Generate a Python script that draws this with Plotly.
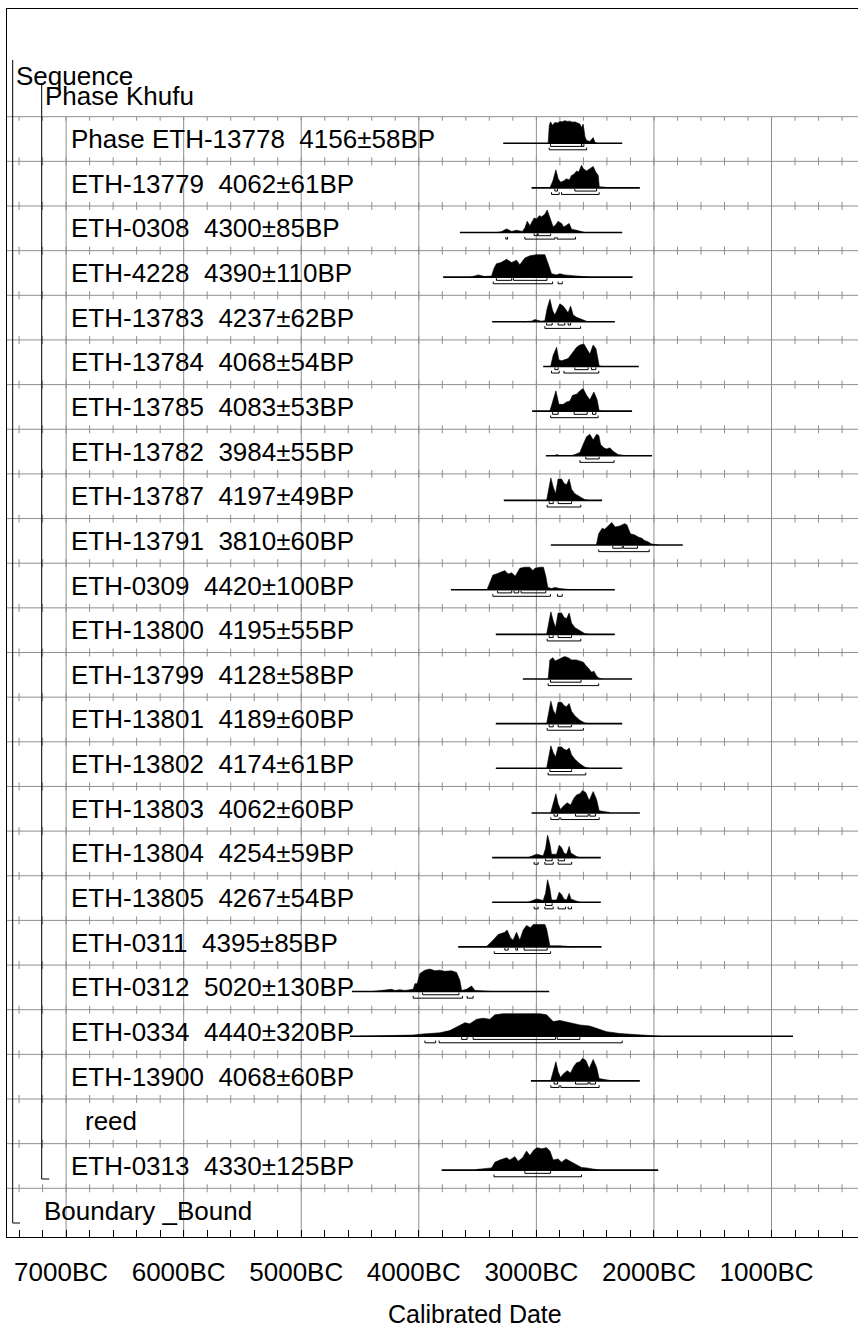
import plotly.graph_objects as go

# ---------------- data (years BC) ----------------
ROW_LABELS = [
    "Phase ETH-13778  4156±58BP", "ETH-13779  4062±61BP", "ETH-0308  4300±85BP",
    "ETH-4228  4390±110BP", "ETH-13783  4237±62BP", "ETH-13784  4068±54BP",
    "ETH-13785  4083±53BP", "ETH-13782  3984±55BP", "ETH-13787  4197±49BP",
    "ETH-13791  3810±60BP", "ETH-0309  4420±100BP", "ETH-13800  4195±55BP",
    "ETH-13799  4128±58BP", "ETH-13801  4189±60BP", "ETH-13802  4174±61BP",
    "ETH-13803  4062±60BP", "ETH-13804  4254±59BP", "ETH-13805  4267±54BP",
    "ETH-0311  4395±85BP", "ETH-0312  5020±130BP", "ETH-0334  4440±320BP",
    "ETH-13900  4068±60BP", "reed", "ETH-0313  4330±125BP",
]
HEADER_LABELS = ["Sequence", "Phase Khufu"]
BOUNDARY_LABEL = "Boundary _Bound"

LINE_START = [3282, 3041, 3651, 3793, 3376, 2942, 3036, 2919, 3277, 2877, 3727, 3345,
              3115, 3345, 3345, 3041, 3376, 3376, 3665, 4569, 4586, 3047, None, 3806]
LINE_END = [2270, 2120, 2270, 2182, 2333, 2129, 2186, 2016, 2441, 1755, 2333, 2333,
            2186, 2270, 2270, 2120, 2452, 2452, 2446, 2891, 817, 2120, None, 1964]

DENS_YEARS = [
    [2900, 2890, 2880, 2863, 2843, 2820, 2800, 2780, 2758, 2735, 2715, 2690, 2673, 2650, 2630, 2616, 2602, 2587, 2573, 2545, 2517, 2503, 2486],
    [2885, 2860, 2834, 2815, 2794, 2770, 2743, 2720, 2701, 2680, 2658, 2640, 2616, 2600, 2573, 2545, 2517, 2495, 2474, 2465, 2440, 2361],
    [3339, 3300, 3254, 3210, 3169, 3120, 3098, 3078, 3055, 3019, 2998, 2975, 2956, 2930, 2908, 2879, 2857, 2835, 2815, 2786, 2766, 2721, 2701, 2658, 2587],
    [3560, 3495, 3440, 3381, 3360, 3339, 3300, 3254, 3211, 3169, 3141, 3098, 3055, 2998, 2950, 2928, 2900, 2871, 2830, 2800, 2760, 2715, 2650, 2602, 2550],
    [3120, 3084, 3040, 3013, 2960, 2928, 2908, 2885, 2862, 2843, 2823, 2800, 2772, 2752, 2730, 2709, 2687, 2658, 2616, 2573, 2540],
    [2879, 2857, 2828, 2809, 2786, 2758, 2730, 2701, 2658, 2630, 2596, 2573, 2545, 2517, 2494, 2475, 2466, 2440],
    [2885, 2857, 2834, 2809, 2772, 2743, 2715, 2692, 2658, 2630, 2602, 2573, 2545, 2511, 2483, 2466, 2440],
    [2850, 2828, 2800, 2700, 2673, 2630, 2602, 2573, 2545, 2517, 2488, 2469, 2454, 2426, 2403, 2375, 2347, 2305, 2233],
    [2913, 2894, 2877, 2857, 2837, 2815, 2786, 2764, 2743, 2721, 2701, 2673, 2630, 2587, 2550],
    [2490, 2470, 2440, 2420, 2390, 2358, 2330, 2290, 2250, 2231, 2200, 2163, 2130, 2103, 2080, 2052, 2020, 1993, 1960],
    [3420, 3396, 3370, 3340, 3300, 3268, 3240, 3209, 3180, 3141, 3100, 3056, 3030, 3013, 2972, 2940, 2920, 2903, 2870, 2843, 2800, 2750, 2700],
    [2913, 2894, 2877, 2857, 2837, 2815, 2786, 2764, 2743, 2721, 2701, 2673, 2630, 2587, 2550],
    [2900, 2885, 2860, 2840, 2800, 2760, 2730, 2700, 2660, 2630, 2600, 2580, 2560, 2530, 2510, 2490, 2470, 2440],
    [2913, 2894, 2877, 2857, 2837, 2815, 2786, 2764, 2743, 2721, 2701, 2673, 2630, 2587, 2550],
    [2913, 2894, 2877, 2857, 2837, 2815, 2786, 2764, 2743, 2721, 2701, 2673, 2630, 2587, 2550],
    [2879, 2851, 2834, 2815, 2794, 2772, 2738, 2709, 2681, 2658, 2630, 2607, 2579, 2551, 2517, 2488, 2466, 2375],
    [3070, 3021, 2998, 2942, 2922, 2905, 2885, 2871, 2828, 2806, 2786, 2766, 2743, 2721, 2707, 2658, 2630],
    [3070, 3021, 2998, 2942, 2922, 2905, 2885, 2871, 2828, 2806, 2786, 2766, 2743, 2721, 2707, 2658, 2630],
    [3424, 3368, 3325, 3268, 3249, 3220, 3198, 3169, 3141, 3112, 3084, 3050, 3027, 2998, 2928, 2913, 2885, 2800, 2715, 2687],
    [4400, 4231, 4203, 4161, 4118, 4048, 4033, 4014, 3991, 3948, 3906, 3863, 3821, 3778, 3721, 3679, 3651, 3636, 3594, 3551, 3523, 3424, 3368],
    [4500, 4331, 4048, 3963, 3821, 3736, 3651, 3608, 3566, 3509, 3453, 3396, 3353, 3283, 2971, 2913, 2857, 2800, 2715, 2630, 2545, 2488, 2403, 2290, 2177, 2063, 1950],
    [2879, 2851, 2834, 2815, 2794, 2772, 2738, 2709, 2681, 2658, 2630, 2607, 2579, 2551, 2517, 2488, 2466, 2375],
    None,
    [3509, 3381, 3353, 3311, 3254, 3226, 3183, 3155, 3117, 3084, 3055, 3021, 2993, 2956, 2913, 2885, 2857, 2815, 2786, 2749, 2715, 2673, 2616, 2573, 2517, 2460],
]
DENS_VALUES = [
    [0, 0.8, 0.95, 0.8, 0.92, 0.9, 0.97, 0.95, 1.0, 0.97, 0.98, 0.93, 0.95, 0.9, 0.85, 0.7, 0.85, 0.3, 0.12, 0.08, 0.25, 0.05, 0],
    [0, 0.3, 0.8, 0.4, 0.25, 0.3, 0.4, 0.35, 0.55, 0.6, 0.75, 0.7, 1.0, 0.85, 0.75, 0.85, 0.95, 0.7, 0.55, 0.05, 0.03, 0],
    [0, 0.03, 0.16, 0.05, 0.1, 0.05, 0.2, 0.5, 0.3, 0.65, 0.6, 0.75, 0.7, 0.8, 1.0, 0.6, 0.25, 0.35, 0.5, 0.4, 0.25, 0.4, 0.15, 0.1, 0],
    [0, 0.1, 0.03, 0.05, 0.4, 0.6, 0.65, 0.8, 0.65, 0.75, 0.55, 0.85, 0.95, 1.0, 1.0, 1.0, 0.6, 0.15, 0.1, 0.15, 0.1, 0.08, 0.04, 0.02, 0],
    [0, 0.02, 0.03, 0.1, 0.03, 0.05, 0.6, 1.0, 0.5, 0.3, 0.5, 0.8, 0.7, 0.55, 0.4, 0.7, 0.3, 0.2, 0.1, 0.02, 0],
    [0, 0.5, 0.85, 0.3, 0.25, 0.3, 0.35, 0.55, 0.85, 0.95, 1.0, 0.8, 0.55, 0.95, 0.8, 0.3, 0.02, 0],
    [0, 0.5, 0.9, 0.3, 0.3, 0.4, 0.45, 0.7, 0.75, 0.9, 1.0, 0.7, 0.5, 0.85, 0.5, 0.02, 0],
    [0, 0.05, 0.01, 0.01, 0.05, 0.15, 0.5, 0.85, 0.95, 0.7, 0.95, 0.9, 0.5, 0.35, 0.3, 0.35, 0.2, 0.05, 0],
    [0, 0.55, 1.0, 0.6, 0.3, 0.95, 0.95, 0.75, 0.7, 0.95, 0.5, 0.3, 0.15, 0.03, 0],
    [0, 0.5, 0.75, 0.7, 0.85, 1.0, 0.8, 0.85, 0.95, 0.9, 0.5, 0.45, 0.35, 0.3, 0.2, 0.15, 0.05, 0.02, 0],
    [0, 0.3, 0.65, 0.7, 0.8, 0.85, 0.7, 0.75, 0.6, 0.95, 1.0, 1.0, 0.85, 0.95, 1.0, 1.0, 0.6, 0.1, 0.05, 0.1, 0.05, 0.02, 0],
    [0, 0.55, 1.0, 0.6, 0.3, 0.95, 0.95, 0.75, 0.7, 0.95, 0.5, 0.3, 0.15, 0.03, 0],
    [0, 0.85, 0.95, 0.8, 0.9, 1.0, 0.95, 0.85, 0.85, 0.8, 0.75, 0.6, 0.5, 0.3, 0.35, 0.15, 0.05, 0],
    [0, 0.55, 1.0, 0.6, 0.4, 0.95, 0.95, 0.8, 0.75, 0.9, 0.55, 0.35, 0.15, 0.03, 0],
    [0, 0.6, 1.0, 0.7, 0.5, 0.95, 0.95, 0.85, 0.8, 0.9, 0.6, 0.4, 0.2, 0.05, 0],
    [0, 0.6, 0.85, 0.4, 0.15, 0.3, 0.45, 0.35, 0.65, 0.8, 0.85, 1.0, 0.9, 0.55, 0.95, 0.6, 0.1, 0.02],
    [0, 0.1, 0.15, 0.08, 0.4, 1.0, 0.6, 0.15, 0.15, 0.55, 0.45, 0.2, 0.15, 0.5, 0.2, 0.05, 0],
    [0, 0.1, 0.15, 0.08, 0.4, 1.0, 0.6, 0.1, 0.1, 0.45, 0.35, 0.15, 0.1, 0.4, 0.15, 0.05, 0],
    [0.02, 0.3, 0.55, 0.65, 0.75, 0.4, 0.3, 0.65, 0.3, 0.75, 0.95, 0.85, 1.0, 1.0, 1.0, 0.8, 0.05, 0.05, 0.03, 0],
    [0, 0.1, 0.05, 0.08, 0.05, 0.1, 0.35, 0.35, 0.8, 0.95, 1.0, 0.93, 0.95, 0.9, 0.92, 0.85, 0.5, 0.05, 0.1, 0.25, 0.05, 0.02, 0],
    [0, 0.03, 0.05, 0.1, 0.15, 0.25, 0.5, 0.6, 0.55, 0.75, 0.8, 0.75, 0.95, 1.0, 1.0, 0.95, 0.65, 0.7, 0.6, 0.5, 0.45, 0.35, 0.2, 0.12, 0.07, 0.02, 0],
    [0, 0.6, 0.85, 0.4, 0.15, 0.3, 0.45, 0.35, 0.65, 0.8, 0.85, 1.0, 0.9, 0.55, 0.95, 0.6, 0.1, 0.02],
    None,
    [0.03, 0.1, 0.35, 0.45, 0.55, 0.45, 0.6, 0.4, 0.55, 0.85, 0.65, 0.9, 1.0, 0.95, 1.0, 0.85, 0.45, 0.5, 0.35, 0.5, 0.4, 0.25, 0.12, 0.1, 0.04, 0],
]
RANGES_68 = [
    [[2880, 2616], [2614, 2596]], [[2843, 2820], [2673, 2488]], [[3019, 2990], [2985, 2879]],
    [[3340, 3210], [3195, 2910]], [[2913, 2866], [2815, 2758], [2730, 2709]],
    [[2843, 2815], [2673, 2560], [2531, 2494]], [[2862, 2815], [2679, 2568], [2522, 2494]],
    [[2580, 2466]], [[2891, 2857], [2815, 2701]], [[2350, 2270], [2260, 2140]],
    [[3330, 3210], [3190, 3150], [3130, 2920]], [[2891, 2857], [2815, 2701]],
    [[2880, 2620]], [[2891, 2857], [2815, 2701]], [[2885, 2700]],
    [[2849, 2820], [2667, 2559], [2545, 2497]], [[2922, 2866], [2815, 2760]], [[2922, 2866]],
    [[3268, 3240], [3175, 3160], [3104, 2908]], [[3968, 3659]],
    [[3636, 3589], [3538, 2837], [2823, 2630]], [[2849, 2820], [2667, 2559], [2545, 2497]],
    None, [[3098, 2879]],
]
RANGES_95 = [
    [[2891, 2573]], [[2871, 2806], [2786, 2466]], [[3260, 3245], [3098, 2842], [2825, 2667]],
    [[3367, 2863], [2815, 2780]], [[2928, 2624]], [[2871, 2806], [2766, 2469]],
    [[2879, 2475]], [[2630, 2339]], [[2908, 2622]], [[2470, 2040]],
    [[3370, 2880], [2820, 2780]], [[2908, 2622]], [[2900, 2470]], [[2908, 2600]], [[2900, 2580]],
    [[2877, 2806], [2792, 2466]], [[3019, 2985], [2928, 2857], [2815, 2700]],
    [[3019, 2985], [2928, 2857], [2815, 2752], [2730, 2701]], [[3358, 2879]],
    [[4048, 3628], [3589, 3538]], [[3948, 3857], [3827, 2270]],
    [[2877, 2806], [2792, 2466]], None, [[3361, 2616]],
]
MAJOR_TICKS = [7000, 6000, 5000, 4000, 3000, 2000, 1000]
MINOR_STEP = 200
AXIS_TITLE = "Calibrated Date"

# ---------------- geometry (pixels of the picture) ----------------
W, H = 858, 1327
PL, PR, PT, PB = 7, 858, 9, 1237
PX_PER_YEAR = 0.11757
PX_7000 = 66.1
ROW0_PX = 116.7
ROW_PX = 44.65

XMIN = -7000 - (PX_7000 - PL) / PX_PER_YEAR
XMAX = XMIN + (PR - PL) / PX_PER_YEAR
YTOP = (PT - ROW0_PX) / ROW_PX
YBOT = (PB - ROW0_PX) / ROW_PX


def xd(px):
    return XMIN + (px - PL) / PX_PER_YEAR


def yd(px):
    return (px - ROW0_PX) / ROW_PX


BASE = 26.5 / ROW_PX
PEAK = 22.5 / ROW_PX
OFF68 = 3.2 / ROW_PX
OFF95 = 6.6 / ROW_PX
BR_TICK = 2.2 / ROW_PX
GRID = "#8f8f8f"
FONT = "Liberation Sans, Arial, sans-serif"

fig = go.Figure()
n_rows = len(ROW_LABELS)

# row lines with small ticks
hx, hy = [], []
for r in range(n_rows + 1):
    hx += [XMIN, XMAX, None]
    hy += [r, r, None]
fig.add_trace(go.Scatter(x=hx, y=hy, mode="lines", line=dict(color=GRID, width=1),
                         hoverinfo="skip", showlegend=False))
tx, ty = [], []
t = -7400
while t <= -400:
    for r in range(n_rows + 1):
        up = 0 if r == 0 else 4 / ROW_PX
        tx += [t, t, None]
        ty += [r - up, r + 4 / ROW_PX, None]
    t += MINOR_STEP
fig.add_trace(go.Scatter(x=tx, y=ty, mode="lines", line=dict(color=GRID, width=1),
                         hoverinfo="skip", showlegend=False))
# vertical grid at major ticks
vx, vy = [], []
for m in MAJOR_TICKS:
    vx += [-m, -m, None]
    vy += [0, YBOT, None]
fig.add_trace(go.Scatter(x=vx, y=vy, mode="lines", line=dict(color=GRID, width=1),
                         hoverinfo="skip", showlegend=False))

# distributions
for i in range(n_rows):
    if DENS_YEARS[i] is None:
        continue
    b = i + BASE
    xs = [-DENS_YEARS[i][0]] + [-v for v in DENS_YEARS[i]] + [-DENS_YEARS[i][-1]]
    ys = [b] + [b - PEAK * v for v in DENS_VALUES[i]] + [b]
    fig.add_trace(go.Scatter(x=xs, y=ys, mode="lines", fill="toself", fillcolor="black",
                             line=dict(color="black", width=0.6), hoverinfo="skip",
                             showlegend=False))
    fig.add_trace(go.Scatter(x=[-LINE_START[i], -LINE_END[i]], y=[b, b], mode="lines",
                             line=dict(color="black", width=1.6), hoverinfo="skip",
                             showlegend=False))
    bx, by = [], []
    for ranges, off in ((RANGES_68[i], OFF68), (RANGES_95[i], OFF95)):
        yy = b + off
        for a, c in ranges:
            bx += [-a, -a, -c, -c, None]
            by += [yy - BR_TICK, yy, yy, yy - BR_TICK, None]
    fig.add_trace(go.Scatter(x=bx, y=by, mode="lines", line=dict(color="black", width=1),
                             hoverinfo="skip", showlegend=False))

# structure brackets (Sequence, Phase)
fig.add_trace(go.Scatter(x=[xd(12.7), xd(12.7), xd(20)], y=[yd(60), yd(1223), yd(1223)],
                         mode="lines", line=dict(color="black", width=1), hoverinfo="skip",
                         showlegend=False))
fig.add_trace(go.Scatter(x=[xd(41.7), xd(41.7), xd(49.3)], y=[yd(83.5), yd(1179), yd(1179)],
                         mode="lines", line=dict(color="black", width=1), hoverinfo="skip",
                         showlegend=False))

annotations = []


def label(text, xpx, y, size=26):
    annotations.append(dict(x=xd(xpx), y=y, xref="x", yref="y", text=text.replace("  ", " \u00a0"),
                            showarrow=False, xanchor="left", yanchor="middle",
                            font=dict(family=FONT, size=size, color="black")))


label(HEADER_LABELS[0], 14, yd(76))
label(HEADER_LABELS[1], 42.5, yd(96))
for i, t_ in enumerate(ROW_LABELS):
    label(t_, 83 if t_ == "reed" else 69, i + 0.5)
label(BOUNDARY_LABEL, 41.5, n_rows + 0.5)

annotations.append(dict(x=(475 - PL) / (PR - PL), y=-(1314 - PB) / (PB - PT), xref="paper",
                        yref="paper", text=AXIS_TITLE, showarrow=False, xanchor="center",
                        yanchor="middle", font=dict(family=FONT, size=25, color="black")))

fig.update_layout(
    width=W, height=H, margin=dict(l=PL, r=W - PR, t=PT, b=H - PB),
    plot_bgcolor="white", paper_bgcolor="white", showlegend=False,
    annotations=annotations,
    xaxis=dict(range=[XMIN, XMAX], tickvals=[-m for m in MAJOR_TICKS],
               ticktext=[f"{m}BC" for m in MAJOR_TICKS], ticks="inside", ticklen=7,
               tickcolor="black", showgrid=False, zeroline=False, showline=True,
               linecolor="black", linewidth=1, mirror=True, ticklabelshift=-5,
               ticklabelstandoff=12,
               tickfont=dict(family=FONT, size=26, color="black"),
               minor=dict(dtick=MINOR_STEP, tick0=0, ticks="inside", ticklen=7,
                          tickcolor="black", showgrid=False)),
    yaxis=dict(range=[YBOT, YTOP], showgrid=False, zeroline=False, showticklabels=False,
               ticks="", showline=True, linecolor="black", linewidth=1),
)

fig.write_html("out.html", config={"displayModeBar": False},
               post_script="document.body.style.margin='0px';")
